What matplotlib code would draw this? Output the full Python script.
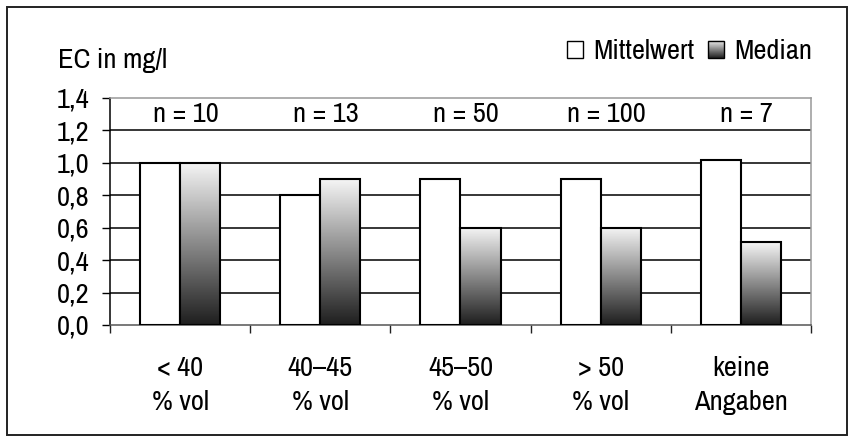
import numpy as np
import matplotlib.pyplot as plt
from matplotlib.patches import Rectangle, Patch
from matplotlib.legend_handler import HandlerBase
from matplotlib.image import BboxImage
from matplotlib.transforms import Bbox, TransformedBbox
from matplotlib.colors import Normalize

plt.rcParams['font.family'] = ['Archivo Narrow', 'DejaVu Sans']

categories = ['< 40\n% vol', '40–45\n% vol', '45–50\n% vol', '> 50\n% vol', 'keine\nAngaben']
mittelwert = [1.0, 0.8, 0.9, 0.9, 1.02]
median = [1.0, 0.9, 0.6, 0.6, 0.51]
n_labels = ['n = 10', 'n = 13', 'n = 50', 'n = 100', 'n = 7']

grad = np.linspace(0.96, 0.12, 256).reshape(-1, 1)
fs = 20.5


class GradientHandler(HandlerBase):
    def create_artists(self, legend, orig_handle, xdescent, ydescent,
                       width, height, fontsize, trans):
        bb = TransformedBbox(Bbox.from_bounds(-xdescent, -ydescent, width, height), trans)
        im = BboxImage(bb, cmap='gray', norm=Normalize(0, 1))
        im.set_data(grad)
        r = Rectangle((-xdescent, -ydescent), width, height, transform=trans,
                      facecolor='none', edgecolor='black', lw=1)
        return [im, r]


fig = plt.figure(figsize=(8.5, 4.36), dpi=100)
ax = fig.add_axes([0.1294, 0.2546, 0.8247, 0.5207])

x = np.arange(len(categories))
w = 0.286

for yv in [0.2, 0.4, 0.6, 0.8, 1.0, 1.2]:
    ax.axhline(yv, color='black', lw=1.1, zorder=1)

ax.bar(x - w / 2, mittelwert, w, color='white', edgecolor='black', lw=1.5, zorder=3)

for xi, v in zip(x, median):
    ax.imshow(grad, cmap='gray', vmin=0, vmax=1, aspect='auto',
              extent=(xi, xi + w, 0, v), zorder=3)
ax.bar(x + w / 2, median, w, color='none', edgecolor='black', lw=1.5, zorder=4)

for xi, lab in zip(x, n_labels):
    ax.text(xi + 0.04, 1.3, lab, ha='center', va='center', fontsize=fs)

ax.set_xlim(-0.5, len(categories) - 0.5)
ax.set_ylim(0, 1.4)
ax.set_yticks(np.arange(0, 1.41, 0.2))
ax.set_yticklabels([f'{v:.1f}'.replace('.', ',') for v in np.arange(0, 1.41, 0.2)], fontsize=fs)
ax.set_xticks(x)
ax.set_xticklabels(categories, fontsize=fs, linespacing=1.45)
ax.set_xticks(np.arange(-0.5, len(categories)), minor=True)
ax.tick_params(axis='x', which='major', length=0, pad=22)
ax.tick_params(axis='x', which='minor', length=6, width=1, color='#222')
ax.tick_params(axis='y', length=6, width=1, pad=9)

for s in ['top', 'right']:
    ax.spines[s].set_color('#999999')
ax.spines['bottom'].set_color('#555555')
ax.spines['left'].set_color('black')
for s in ax.spines.values():
    s.set_linewidth(1.1)

fig.text(0.068, 0.862, 'EC in mg/l', fontsize=fs, va='center', ha='left')

handles = [Patch(facecolor='white', edgecolor='black', lw=1), Patch()]
fig.legend(handles, ['Mittelwert', 'Median'], loc='center right',
           bbox_to_anchor=(0.955, 0.881), ncol=2, frameon=False, fontsize=fs,
           handlelength=0.55, handleheight=0.55, handletextpad=0.35, columnspacing=0.5,
           borderaxespad=0, borderpad=0,
           handler_map={handles[1]: GradientHandler()})

fig.patches.append(Rectangle((0.008, 0.003), 0.989, 0.98, transform=fig.transFigure,
                             fill=False, edgecolor='#222222', lw=1.4))

fig.savefig('out.png', dpi=100)
